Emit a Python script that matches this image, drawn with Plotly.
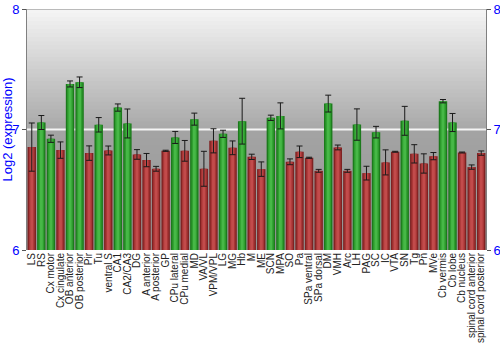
import plotly.graph_objects as go

categories = ["LS", "RS", "Cx motor", "Cx cingulate", "OB anterior", "OB posterior", "Pir", "Tu",
              "ventral S", "CA1", "CA2/CA3", "DG", "A anterior", "A posterior", "GP", "CPu lateral",
              "CPu medial", "MD", "VA/VL", "VPM/VPL", "LG", "MG", "Hb", "M", "ME", "SCN", "MPA",
              "SO", "Pa", "SPa ventral", "SPa dorsal", "DM", "VMH", "Arc", "LH", "PAG", "SC", "IC",
              "VTA", "SN", "Tg", "Pn", "MVe", "Cb vermis", "Cb lobe", "Cb nucleus",
              "spinal cord anterior", "spinal cord posterior"]
values = [6.854, 7.058, 6.923, 6.829, 7.378, 7.392, 6.804, 7.039,
          6.826, 7.182, 7.050, 6.793, 6.746, 6.674, 6.823, 6.934,
          6.823, 7.086, 6.674, 6.906, 6.964, 6.848, 7.069, 6.773, 6.671, 7.097, 7.113,
          6.732, 6.815, 6.765, 6.657, 7.215, 6.851, 6.657, 7.041, 6.638, 6.978, 6.727,
          6.815, 7.072, 6.798, 6.718, 6.779, 7.235, 7.058, 6.809,
          6.688, 6.804]
errors = [0.200, 0.058, 0.030, 0.068, 0.025, 0.044, 0.060, 0.060,
          0.037, 0.030, 0.120, 0.040, 0.055, 0.020, 0.005, 0.050,
          0.086, 0.050, 0.145, 0.100, 0.030, 0.057, 0.190, 0.022, 0.060, 0.022, 0.108,
          0.024, 0.048, 0.005, 0.012, 0.070, 0.020, 0.012, 0.130, 0.057, 0.048, 0.104,
          0.004, 0.120, 0.076, 0.080, 0.030, 0.014, 0.075, 0.004,
          0.018, 0.018]
groups = ["r", "g", "g", "r", "g", "g", "r", "g",
          "r", "g", "g", "r", "r", "r", "r", "g",
          "r", "g", "r", "r", "g", "r", "g", "r", "r", "g", "g",
          "r", "r", "r", "r", "g", "r", "r", "g", "r", "g", "r",
          "r", "g", "r", "r", "r", "g", "g", "r",
          "r", "r"]

shades = {
    "r": ["#7e2222", "#a83636", "#c24b4b"],
    "g": ["#1c7a1c", "#2f9e2f", "#47b847"],
}
widths = [0.88, 0.6, 0.3]

fig = go.Figure()
for i, w in enumerate(widths):
    last = i == len(widths) - 1
    fig.add_trace(go.Bar(
        x=categories, y=[v - 6 for v in values], base=6, width=w,
        marker=dict(color=[shades[g][i] for g in groups], line=dict(width=0)),
        error_y=dict(type="data", array=errors, color="#1a1a1a", thickness=1, width=3,
                     visible=last),
        showlegend=False, hoverinfo="skip" if not last else None,
    ))

# invisible trace to carry the right-hand axis
fig.add_trace(go.Scatter(x=[categories[0]], y=[6], yaxis="y2", mode="markers",
                         marker=dict(opacity=0), showlegend=False, hoverinfo="skip"))

# vertical grey gradient background
shapes = []
n = 60
for k in range(n):
    y0 = 6 + 2 * k / n
    y1 = 6 + 2 * (k + 1) / n
    t = (y0 + y1) / 2 - 6  # 0..2
    if t >= 1:
        c = int(168 + (t - 1) * (246 - 168))
    else:
        c = int(148 + t * (164 - 148))
    shapes.append(dict(type="rect", xref="paper", yref="y", x0=0, x1=1, y0=y0,
                       y1=min(y1 + 0.03, 8),
                       fillcolor=f"rgb({c},{c},{c})", line=dict(width=0), layer="below"))
shapes.append(dict(type="line", xref="paper", yref="y", x0=0, x1=1, y0=7, y1=7,
                   line=dict(color="#f4f4f4", width=2), layer="below"))
shapes.append(dict(type="line", xref="paper", yref="y", x0=0, x1=1, y0=8, y1=8,
                   line=dict(color="#808080", width=1)))

tickfont = dict(family="Liberation Sans, Arial", size=13, color="blue")
fig.update_layout(
    width=500, height=350,
    margin=dict(l=27, r=14, t=9, b=100),
    paper_bgcolor="white", plot_bgcolor="rgba(0,0,0,0)",
    barmode="overlay", bargap=0.1,
    shapes=shapes,
    xaxis=dict(tickangle=-90, tickmode="array", tickvals=categories, ticktext=categories,
               tickfont=dict(family="Liberation Sans, Arial", size=10, color="#222"),
               showgrid=False, showline=False, ticks="", zeroline=False, fixedrange=True,
               automargin=False, range=[-0.5, len(categories) - 0.5]),
    yaxis=dict(range=[6, 8], tickvals=[6, 7, 8], ticktext=["6", "7", "8"],
               showgrid=False, zeroline=False, showline=True, linecolor="#808080", linewidth=1,
               ticks="outside", ticklen=4, tickcolor="#555", tickfont=tickfont, automargin=False,
               title=dict(text="Log2 (expression)", font=dict(family="Liberation Sans, Arial", size=13, color="blue"),
                          standoff=2)),
    yaxis2=dict(range=[6, 8], tickvals=[6, 7, 8], ticktext=["6", "7", "8"], overlaying="y", side="right",
                showgrid=False, zeroline=False, showline=True, linecolor="#808080", linewidth=1,
                ticks="outside", ticklen=4, tickcolor="#555", tickfont=tickfont, automargin=False),
)

fig.write_html("out.html")
